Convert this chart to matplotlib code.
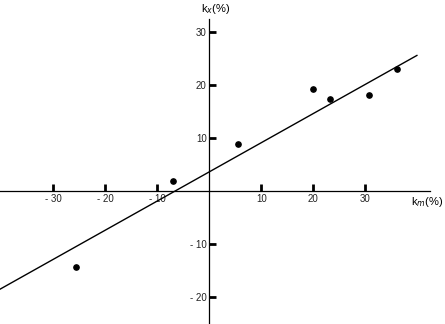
import numpy as np
import matplotlib
matplotlib.use('Agg')
import matplotlib.pyplot as plt

# data
km = [5.6, 20.0, 23.1, 30.6, 36.0, -6.9, -25.7]
kx = [8.9, 19.3, 17.5, 18.2, 23.1, 1.9, -14.2]
xticks = [-30, -20, -10, 10, 20, 30]
yticks = [-20, -10, 10, 20, 30]
fit_slope = 0.55
fit_intercept = 3.7
fit_range = [-40.25, 39.9]

plt.rcParams['font.family'] = ['Liberation Sans', 'DejaVu Sans']
plt.rcParams['axes.unicode_minus'] = False

fig = plt.figure(figsize=(4.45, 3.24), dpi=100)
ax = fig.add_axes([0, 0, 1, 1])
ax.set_xlim(-40.25, 45.3)
ax.set_ylim(-25.0, 36.1)

# axes crossing at the origin
for side in ['top', 'right']:
    ax.spines[side].set_visible(False)
ax.spines['bottom'].set_position(('data', 0))
ax.spines['left'].set_position(('data', 0))
ax.spines['bottom'].set_bounds(-40.25, 42.5)
ax.spines['left'].set_bounds(-25.0, 32.5)
ax.spines['bottom'].set_linewidth(0.9)
ax.spines['left'].set_linewidth(0.9)

ax.set_xticks(xticks)
ax.set_yticks(yticks)
ax.set_xticklabels([str(t).replace('-', '- ') for t in xticks])
ax.set_yticklabels([str(t).replace('-', '- ') for t in yticks])
ax.tick_params(direction='in', length=5, width=2, labelsize=7, color='black',
               labelcolor='#222222', pad=2)

# regression line
xs = np.array(fit_range)
ax.plot(xs, fit_slope * xs + fit_intercept, color='black', lw=1.0)

# data points
ax.plot(km, kx, 'o', color='black', markersize=3.8)

ax.text(216 / 445, 1 - 9 / 324, 'k$_x$(%)', transform=fig.transFigure,
        ha='center', va='center', fontsize=8)
ax.text(427 / 445, 1 - 202 / 324, 'k$_m$(%)', transform=fig.transFigure,
        ha='center', va='center', fontsize=8)

fig.savefig('out.png', dpi=100)
